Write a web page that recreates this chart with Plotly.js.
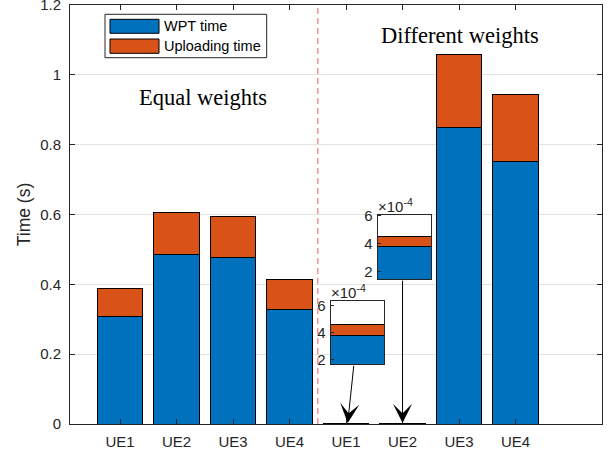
<!DOCTYPE html>
<html>
<head>
<meta charset="utf-8">
<script src="https://cdn.plot.ly/plotly-3.0.1.min.js"></script>
<style>html,body{margin:0;padding:0;background:#fff;}#chart{width:611px;height:457px;}</style>
</head>
<body>
<div id="chart"></div>
<script>
// ---- data ----
const positions = [1, 2, 3, 4, 5, 6, 7, 8];
const tickLabels = ['UE1', 'UE2', 'UE3', 'UE4', 'UE1', 'UE2', 'UE3', 'UE4'];
const seriesNames = ['WPT time', 'Uploading time'];
const wptTime = [0.308, 0.485, 0.477, 0.328, 3.8e-4, 3.76e-4, 0.848, 0.751];
const uploadTime = [0.079, 0.120, 0.117, 0.085, 0.8e-4, 0.77e-4, 0.209, 0.192];
const groupLabels = ['Equal weights', 'Different weights'];
const yTickVals = [0, 0.2, 0.4, 0.6, 0.8, 1, 1.2];
const yTickText = ['0', '0.2', '0.4', '0.6', '0.8', '1', '1.2'];
const insetTickVals = [2e-4, 4e-4, 6e-4];
const insetTickText = ['2', '4', '6'];

// ---- styling ----
const BLUE = '#0072BD', ORANGE = '#D95319', AX = '#262626';
const L = 70, R = 602, T = 5, B = 424, W = 611, H = 457;
const fx = px => (px - L) / (R - L);
const fy = py => (B - py) / (B - T);

const traces = [];
traces.push({type: 'bar', x: positions, y: wptTime, name: seriesNames[0], width: 0.8,
  marker: {color: BLUE, line: {color: '#000', width: 1}}, showlegend: false, hoverinfo: 'skip'});
traces.push({type: 'bar', x: positions, y: uploadTime, name: seriesNames[1], width: 0.8,
  marker: {color: ORANGE, line: {color: '#000', width: 1}}, showlegend: false, hoverinfo: 'skip'});

// insets for the two tiny bars (index 4 and 5)
const insetIdx = [4, 5];
insetIdx.forEach((k, j) => {
  const xa = 'x' + (j + 2), ya = 'y' + (j + 2);
  traces.push({type: 'bar', x: [1], y: [wptTime[k]], xaxis: xa, yaxis: ya, width: 0.8,
    marker: {color: BLUE, line: {color: '#000', width: 1}}, showlegend: false, hoverinfo: 'skip'});
  traces.push({type: 'bar', x: [1], y: [uploadTime[k]], xaxis: xa, yaxis: ya, width: 0.8,
    marker: {color: ORANGE, line: {color: '#000', width: 1}}, showlegend: false, hoverinfo: 'skip'});
});

function insetAxes(xd, yd, yr) {
  return [
    {domain: xd, range: [0.6, 1.4], showticklabels: false, ticks: '', showgrid: false, zeroline: false,
     showline: true, linecolor: AX, linewidth: 1, mirror: true, fixedrange: true},
    {domain: yd, range: yr, tickvals: insetTickVals, ticktext: insetTickText, ticks: 'inside', ticklen: 3,
     tickcolor: AX, showgrid: false, zeroline: false, showline: true, linecolor: AX, linewidth: 1, mirror: true,
     tickfont: {family: 'Liberation Sans, Arial', size: 15, color: AX}, ticklabelstandoff: 1,
     ticklabeloverflow: 'allow'}
  ];
}
const in1 = insetAxes([fx(330.7), fx(384)], [fy(364.3), fy(300.7)], [1.68e-4, 6.37e-4]);
const in2 = insetAxes([fx(377.7), fx(431.3)], [fy(279), fy(214.7)], [1.44e-4, 6.09e-4]);

const shapes = [
  {type: 'line', xref: 'x', yref: 'y', x0: 4.5, x1: 4.5, y0: 0, y1: 1.2,
   line: {color: '#f38585', width: 1.3, dash: '6px,4px'}},
  // legend
  {type: 'rect', xref: 'paper', yref: 'paper', x0: fx(105), x1: fx(266.7), y0: fy(57.7), y1: fy(14.3),
   line: {color: AX, width: 1}, fillcolor: '#fff'},
  {type: 'rect', xref: 'paper', yref: 'paper', x0: fx(110), x1: fx(159), y0: fy(33.3), y1: fy(19.3),
   line: {color: '#000', width: 1}, fillcolor: BLUE},
  {type: 'rect', xref: 'paper', yref: 'paper', x0: fx(110), x1: fx(159), y0: fy(53.3), y1: fy(39),
   line: {color: '#000', width: 1}, fillcolor: ORANGE}
];

const annotations = [
  {xref: 'paper', yref: 'paper', x: fx(162), y: fy(26.3), xanchor: 'left', yanchor: 'middle', showarrow: false,
   text: seriesNames[0], font: {family: 'Liberation Sans, Arial', size: 14.5, color: '#000'}},
  {xref: 'paper', yref: 'paper', x: fx(162), y: fy(46.2), xanchor: 'left', yanchor: 'middle', showarrow: false,
   text: seriesNames[1], font: {family: 'Liberation Sans, Arial', size: 14.5, color: '#000'}},
  {xref: 'x', yref: 'y', x: 2.47, y: 0.934, showarrow: false, text: groupLabels[0],
   font: {family: 'Liberation Serif, Times New Roman', size: 22.5, color: '#000'}},
  {xref: 'x', yref: 'y', x: 7.02, y: 1.114, showarrow: false, text: groupLabels[1],
   font: {family: 'Liberation Serif, Times New Roman', size: 22.5, color: '#000'}},
  {xref: 'x2 domain', yref: 'y2 domain', x: 0, y: 1, xanchor: 'left', yanchor: 'bottom', showarrow: false,
   text: '\u00d710<sup>-4</sup>', font: {family: 'Liberation Sans, Arial', size: 15, color: AX}, xshift: -2, yshift: -2},
  {xref: 'x3 domain', yref: 'y3 domain', x: 0, y: 1, xanchor: 'left', yanchor: 'bottom', showarrow: false,
   text: '\u00d710<sup>-4</sup>', font: {family: 'Liberation Sans, Arial', size: 15, color: AX}, xshift: -2, yshift: -2},
  // arrows from insets to the tiny bars
  {xref: 'x', yref: 'y', axref: 'x', ayref: 'y', x: 5.03, y: 0.003, ax: 5.14, ay: 0.171, text: '',
   showarrow: true, arrowhead: 3, arrowsize: 3.2, arrowwidth: 1, arrowcolor: '#000', standoff: 0},
  {xref: 'x', yref: 'y', axref: 'x', ayref: 'y', x: 6.0, y: 0.003, ax: 6.0, ay: 0.415, text: '',
   showarrow: true, arrowhead: 3, arrowsize: 3.2, arrowwidth: 1, arrowcolor: '#000', standoff: 0}
];

const layout = {
  width: W, height: H,
  margin: {l: L, r: W - R, t: T, b: H - B, pad: 0},
  paper_bgcolor: '#fff', plot_bgcolor: '#fff',
  barmode: 'stack', bargap: 0,
  showlegend: false,
  font: {family: 'Liberation Sans, Arial', color: AX},
  xaxis: {range: [0.115, 9.53], tickvals: positions, ticktext: tickLabels, ticks: 'inside', ticklen: 5,
          tickcolor: AX, showline: true, linecolor: AX, linewidth: 1, mirror: 'ticks', showgrid: false,
          zeroline: false, tickfont: {size: 15, color: AX}, ticklabelstandoff: 4, fixedrange: true,
          ticklabeloverflow: 'allow'},
  yaxis: {range: [0, 1.2000001], tickvals: yTickVals, ticktext: yTickText, ticks: 'inside', ticklen: 5,
          tickcolor: AX, showline: true, ticklabeloverflow: 'allow',
          linecolor: AX, linewidth: 1, mirror: 'ticks', showgrid: true, gridcolor: '#e2e2e2', gridwidth: 1,
          zeroline: false, tickfont: {size: 15, color: AX}, ticklabelstandoff: 5,
          title: {text: 'Time (s)', font: {size: 17.5, color: AX}, standoff: 5}},
  xaxis2: Object.assign({anchor: 'y2'}, in1[0]),
  yaxis2: Object.assign({anchor: 'x2'}, in1[1]),
  xaxis3: Object.assign({anchor: 'y3'}, in2[0]),
  yaxis3: Object.assign({anchor: 'x3'}, in2[1]),
  shapes: shapes,
  annotations: annotations
};

Plotly.newPlot('chart', traces, layout, {staticPlot: true, displayModeBar: false});
</script>
</body>
</html>
